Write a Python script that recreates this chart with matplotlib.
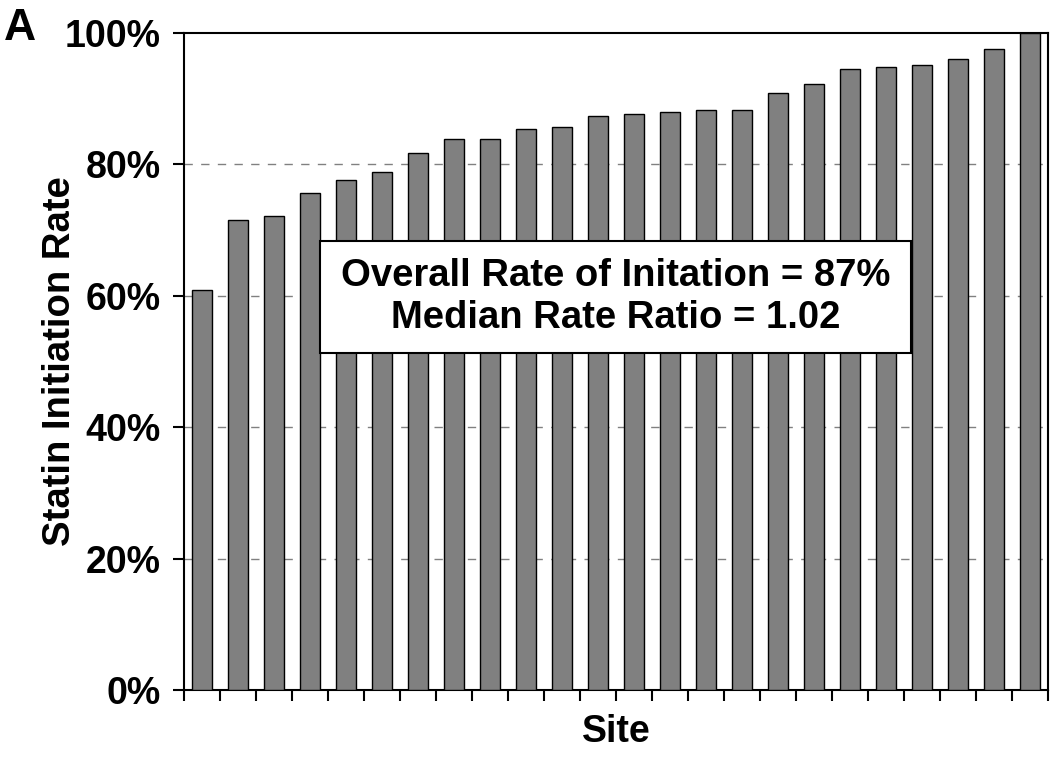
import numpy as np
import matplotlib
matplotlib.use("Agg")
import matplotlib.pyplot as plt
from matplotlib.patches import Rectangle
from matplotlib.ticker import FuncFormatter

# initiation rate per site (%), sorted ascending
rates = [60.9, 71.5, 72.1, 75.7, 77.6, 78.9, 81.8, 83.8, 83.8, 85.4, 85.7, 87.3,
         87.6, 88.0, 88.3, 88.3, 90.9, 92.2, 94.5, 94.8, 95.1, 96.0, 97.6, 100.0]
y_ticks = [0, 20, 40, 60, 80, 100]
box_lines = ["Overall Rate of Initation = 87%", "Median Rate Ratio = 1.02"]

plt.rcParams['font.family'] = ['Liberation Sans', 'DejaVu Sans']
plt.rcParams['font.weight'] = 'bold'

fig = plt.figure(figsize=(10.5, 7.58), dpi=100)
ax = fig.add_axes([184/1050, 1 - 690/758, 864/1050, 657/758])

x = np.arange(len(rates))
ax.bar(x, rates, width=0.56, color='#808080', edgecolor='black', linewidth=1.0, zorder=3)

# dashed gridlines
for yv in y_ticks[1:-1]:
    ax.axhline(yv, color='#808080', linestyle=(0, (6, 6)), linewidth=1.0, zorder=1)

ax.set_xlim(-0.5, len(rates) - 0.5)
ax.set_ylim(0, 100)
ax.set_yticks(y_ticks)
ax.yaxis.set_major_formatter(FuncFormatter(lambda v, p: f"{int(v)}%"))
ax.set_xticks(np.arange(len(rates) + 1) - 0.5)
ax.set_xticklabels([])

ax.tick_params(axis='y', direction='out', length=8, width=1.5, labelsize=27, pad=9)
ax.tick_params(axis='x', direction='out', length=8, width=1.5)
for lab in ax.get_yticklabels():
    lab.set_fontweight('bold')
for s in ax.spines.values():
    s.set_linewidth(1.5)

ax.set_ylabel("Statin Initiation Rate", fontsize=27.5, fontweight='bold', labelpad=-10)
ax.set_xlabel("Site", fontsize=27, fontweight='bold', labelpad=6)

# summary box
ax.add_patch(Rectangle((0.157, 0.513), 0.685, 0.170, transform=ax.transAxes,
                       facecolor='white', edgecolor='black', linewidth=1.5, zorder=5))
ax.text(0.5, 0.598, "\n".join(box_lines), transform=ax.transAxes, ha='center', va='center',
        fontsize=27.5, fontweight='bold', linespacing=1.2, zorder=6)

fig.text(0.004, 0.99, "A", fontsize=32, fontweight='bold', ha='left', va='top')

fig.savefig("out.png", dpi=100)
